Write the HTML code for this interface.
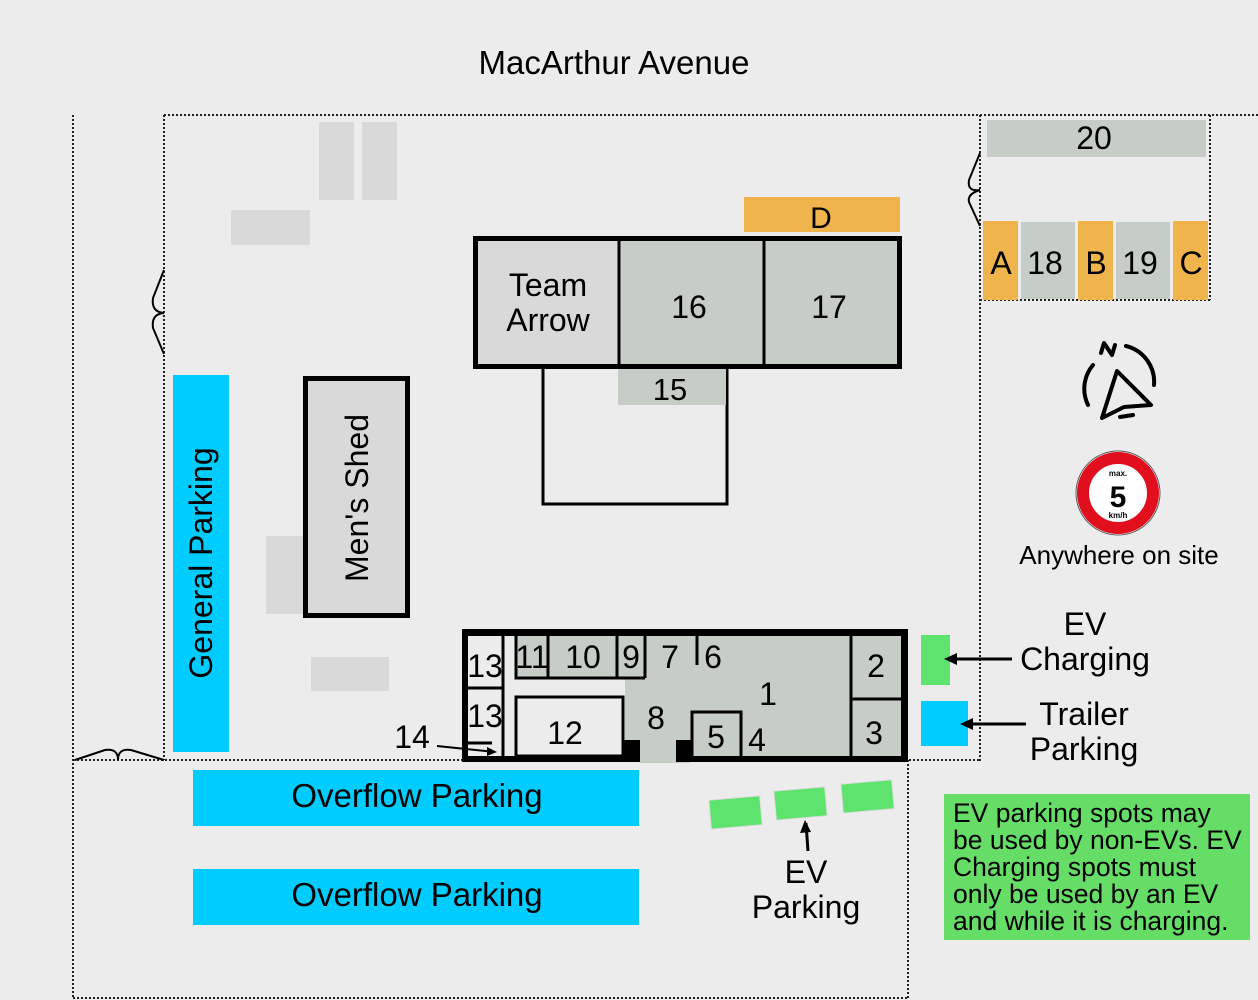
<!DOCTYPE html>
<html><head><style>
html,body{margin:0;padding:0;background:#ececec;}
svg{display:block;}
text{font-family:"Liberation Sans",sans-serif;fill:#000;}
</style></head><body>
<svg width="1258" height="1000" viewBox="0 0 1258 1000" xmlns="http://www.w3.org/2000/svg">
<rect width="1258" height="1000" fill="#ececec"/>
<text x="614" y="74" font-size="33" text-anchor="middle">MacArthur Avenue</text>

<g stroke="#222" stroke-width="2" stroke-dasharray="2,2" fill="none">
<line x1="73" y1="115" x2="73" y2="998"/>
<line x1="164" y1="115" x2="1258" y2="115"/>
<line x1="164" y1="115" x2="164" y2="760"/>
<line x1="73" y1="760" x2="980" y2="760"/>
<line x1="980" y1="115" x2="980" y2="762"/>
<line x1="1210" y1="115" x2="1210" y2="300"/>
<line x1="980" y1="300" x2="1210" y2="300"/>
<line x1="73" y1="998" x2="908" y2="998"/>
<line x1="908" y1="760" x2="908" y2="998"/>
</g>
<g stroke="#000" stroke-width="2" fill="none">
<path d="M164,270 L153,298 Q151,312 164,313 Q151,314 153,328 L164,354"/>
<path d="M980,153 L969,180 Q967,192 980,190 Q967,194 969,202 L980,226"/>
<path d="M75,760 L105,750 Q118,748 118,760 Q118,748 131,750 L164,760"/>
</g>

<g fill="#d9d9d9">
<rect x="319" y="122" width="35" height="78"/>
<rect x="362" y="122" width="35" height="78"/>
<rect x="231" y="210" width="79" height="35"/>
<rect x="266" y="536" width="37" height="78"/>
<rect x="311" y="657" width="78" height="34"/>
</g>

<rect x="173" y="375" width="56" height="377" fill="#00ccff"/>
<text transform="translate(212,563) rotate(-90)" font-size="32" text-anchor="middle">General Parking</text>

<rect x="305.5" y="378.5" width="102" height="237" fill="#d9d9d9" stroke="#000" stroke-width="5"/>
<text transform="translate(368,498) rotate(-90)" font-size="32" text-anchor="middle">Men's Shed</text>

<rect x="744" y="197" width="156" height="35" fill="#f0b44c"/>
<text x="821" y="228" font-size="30" text-anchor="middle">D</text>

<rect x="543" y="366" width="184" height="138" fill="none" stroke="#000" stroke-width="3"/>
<rect x="618" y="368" width="108" height="37" fill="#c6ccc6"/>
<text x="670" y="400" font-size="31" text-anchor="middle">15</text>
<rect x="476" y="239" width="142" height="127" fill="#d9d9d9"/>
<rect x="618" y="239" width="280" height="127" fill="#c6ccc6"/>
<rect x="475.5" y="238.5" width="424" height="128" fill="none" stroke="#000" stroke-width="5"/>
<line x1="619" y1="238" x2="619" y2="366" stroke="#000" stroke-width="3"/>
<line x1="764" y1="238" x2="764" y2="366" stroke="#000" stroke-width="3"/>
<text x="548" y="296" font-size="32" text-anchor="middle">Team</text>
<text x="548" y="331" font-size="32" text-anchor="middle">Arrow</text>
<text x="689" y="318" font-size="32" text-anchor="middle">16</text>
<text x="829" y="318" font-size="32" text-anchor="middle">17</text>

<rect x="987" y="120" width="219" height="37" fill="#c6ccc6"/>
<text x="1094" y="149" font-size="32" text-anchor="middle">20</text>
<rect x="983" y="221" width="35" height="79" fill="#f0b44c"/>
<rect x="1021" y="222" width="54" height="77" fill="#c6ccc6"/>
<rect x="1078" y="221" width="35" height="79" fill="#f0b44c"/>
<rect x="1116" y="222" width="54" height="77" fill="#c6ccc6"/>
<rect x="1173" y="221" width="35" height="79" fill="#f0b44c"/>
<g font-size="32" text-anchor="middle">
<text x="1001" y="274">A</text><text x="1045" y="274">18</text><text x="1096" y="274">B</text><text x="1140" y="274">19</text><text x="1191" y="274">C</text>
</g>

<g stroke="#000" stroke-width="4" fill="none" stroke-linecap="round" stroke-linejoin="round">
<path d="M1093,365 A37,37 0 0 0 1088,405"/>
<path d="M1126,346 A37,37 0 0 1 1154,385"/>
<path d="M1120,417 L1133,415"/>
<path d="M1117,371 L1151,405 L1124,407 L1102,418 Z"/>
<path d="M1101,353 L1104,343 L1112,355 L1115,345"/>
</g>

<circle cx="1118" cy="493" r="42" fill="#fff" stroke="#555" stroke-width="1"/>
<circle cx="1118" cy="493" r="35" fill="none" stroke="#e10e1e" stroke-width="12"/>
<text x="1118" y="476" font-size="8" text-anchor="middle" font-weight="bold">max.</text>
<text x="1118" y="507" font-size="30" text-anchor="middle" font-weight="bold">5</text>
<text x="1118" y="518" font-size="8" text-anchor="middle" font-weight="bold">km/h</text>
<text x="1119" y="564" font-size="26" text-anchor="middle">Anywhere on site</text>

<rect x="465" y="633" width="440" height="126" fill="#ececec"/>
<rect x="625" y="678" width="280" height="82" fill="#c6ccc6"/>
<rect x="515" y="636" width="390" height="43" fill="#c6ccc6"/>
<rect x="640" y="740" width="50" height="23" fill="#c6ccc6"/>
<g fill="#000">
<rect x="462" y="629" width="446" height="7"/>
<rect x="462" y="629" width="6" height="133"/>
<rect x="901" y="629" width="7" height="133"/>
<rect x="462" y="756" width="178" height="6"/>
<rect x="690" y="756" width="218" height="6"/>
<rect x="622" y="740" width="18" height="22"/>
<rect x="676" y="740" width="16" height="22"/>
</g>
<g stroke="#000" stroke-width="3" fill="none">
<line x1="503" y1="636" x2="503" y2="756"/>
<line x1="467" y1="688" x2="503" y2="688"/>
<line x1="467" y1="743" x2="492" y2="743"/>
<path d="M516,636 V678 H645 M548,636 V678 M617,636 V678 M645,636 V678"/>
<line x1="697" y1="636" x2="697" y2="665"/>
<line x1="851" y1="636" x2="851" y2="756"/>
<line x1="851" y1="699" x2="904" y2="699"/>
<rect x="516" y="697" width="107" height="59"/>
<path d="M692,756 V712 H741 V756"/>
</g>
<g font-size="32" text-anchor="middle">
<text x="485" y="677">13</text><text x="485" y="727">13</text>
<text x="532" y="668">11</text><text x="583" y="668">10</text><text x="631" y="668">9</text>
<text x="670" y="668">7</text><text x="713" y="668">6</text><text x="768" y="705">1</text>
<text x="876" y="677">2</text><text x="874" y="744">3</text><text x="565" y="744">12</text>
<text x="656" y="729">8</text><text x="716" y="748">5</text><text x="757" y="751">4</text>
<text x="412" y="748">14</text>
</g>
<line x1="437" y1="746" x2="495" y2="752" stroke="#000" stroke-width="2"/>
<path d="M497,752 L487,747 L487,756 Z" fill="#000"/>

<rect x="921" y="635" width="29" height="50" fill="#5ee36e"/>
<rect x="921" y="701" width="47" height="45" fill="#00ccff"/>
<g stroke="#000" stroke-width="3"><line x1="952" y1="659" x2="1012" y2="659"/><line x1="968" y1="724" x2="1026" y2="724"/><line x1="806" y1="823" x2="808" y2="851"/></g>
<path d="M944,659 L957,653 L957,665 Z M960,724 L973,718 L973,730 Z M805,820 L800,833 L811,832 Z" fill="#000"/>
<g font-size="32" text-anchor="middle">
<text x="1085" y="635">EV</text><text x="1085" y="670">Charging</text>
<text x="1084" y="725">Trailer</text><text x="1084" y="760">Parking</text>
<text x="806" y="883">EV</text><text x="806" y="918">Parking</text>
</g>

<rect x="193" y="770" width="446" height="56" fill="#00ccff"/>
<rect x="193" y="869" width="446" height="56" fill="#00ccff"/>
<text x="417" y="807" font-size="33" text-anchor="middle">Overflow Parking</text>
<text x="417" y="906" font-size="33" text-anchor="middle">Overflow Parking</text>

<g fill="#5ee36e" stroke="#ddd" stroke-width="1">
<rect x="710" y="798" width="51" height="29" transform="rotate(-5 735 812)"/>
<rect x="775" y="789" width="51" height="29" transform="rotate(-5 800 803)"/>
<rect x="842" y="782" width="51" height="29" transform="rotate(-5 867 796)"/>
</g>

<rect x="944" y="794" width="306" height="146" fill="#66dd66"/>
<g font-size="26.5">
<text x="953" y="822">EV parking spots may</text>
<text x="953" y="849">be used by non-EVs. EV</text>
<text x="953" y="876">Charging spots must</text>
<text x="953" y="903">only be used by an EV</text>
<text x="953" y="930">and while it is charging.</text>
</g>
</svg>
</body></html>
